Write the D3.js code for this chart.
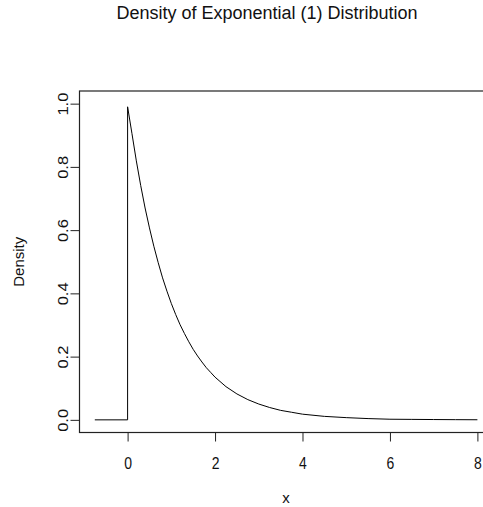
<!DOCTYPE html>
<html>
<head>
<meta charset="utf-8">
<script src="https://cdn.jsdelivr.net/npm/d3@7"></script>
<style>
  body { margin: 0; background: #fff; }
  text { font-family: "Liberation Sans", Arial, sans-serif; fill: #111; }
</style>
</head>
<body>
<div id="d3-container"></div>
<script>
/**
 * CONSTANTS AND GLOBALS
 * */
const width = 483,
  height = 507,
  margin = { top: 91, bottom: 74.5, left: 79.5, right: -9.7 };

// values: density of exp(1), flat at 0 left of the origin
const densityX = [-0.75, 0, 0, 0.1, 0.2, 0.3, 0.4, 0.5, 0.6, 0.7, 0.8, 0.9, 1.0,
  1.1, 1.2, 1.3, 1.4, 1.5, 1.6, 1.7, 1.8, 1.9, 2.0, 2.25, 2.5, 2.75, 3.0,
  3.25, 3.5, 3.75, 4.0, 4.5, 5.0, 5.5, 6.0, 6.5, 7.0, 7.5, 8.0];
const densityY = [0, 0, 0.99, 0.905, 0.819, 0.741, 0.670, 0.607, 0.549, 0.497, 0.449, 0.407, 0.368,
  0.333, 0.301, 0.273, 0.247, 0.223, 0.202, 0.183, 0.165, 0.150, 0.135, 0.105, 0.082, 0.064, 0.050,
  0.039, 0.030, 0.024, 0.018, 0.011, 0.007, 0.004, 0.002, 0.0015, 0.001, 0.0006, 0.0003];

const xTicks = [0, 2, 4, 6, 8];
const yTicks = [0, 0.2, 0.4, 0.6, 0.8, 1.0];
const yTickLabels = ["0.0", "0.2", "0.4", "0.6", "0.8", "1.0"];

const titleText = "Density of Exponential (1) Distribution";
const xLabel = "x";
const yLabel = "Density";

let svg;

/**
 * INIT
 * */
function init() {
  svg = d3.select("#d3-container")
    .append("svg")
    .attr("width", width)
    .attr("height", height);

  // R pads the data range by 4% on each side
  const xScale = d3.scaleLinear()
    .domain([-1.1, 8.35])
    .range([margin.left, width - margin.right]);

  const yScale = d3.scaleLinear()
    .domain([-0.04, 1.04])
    .range([height - margin.bottom, margin.top]);

  // plot box
  svg.append("rect")
    .attr("x", margin.left)
    .attr("y", margin.top)
    .attr("width", width - margin.right - margin.left)
    .attr("height", height - margin.bottom - margin.top)
    .attr("fill", "none")
    .attr("stroke", "#222")
    .attr("stroke-width", 1.2);

  // x axis (glyphs in the picture are a bit stretched vertically)
  const xAxis = svg.append("g")
    .attr("transform", `translate(0, ${height - margin.bottom})`)
    .call(d3.axisBottom(xScale).tickValues(xTicks).tickSize(9).tickSizeOuter(0).tickFormat(d3.format("d")));
  xAxis.select(".domain").remove();
  xAxis.selectAll("line").attr("stroke", "#222");
  xAxis.selectAll("text")
    .attr("y", 0)
    .attr("dy", 0)
    .attr("transform", "translate(0, 36) scale(1, 1.15)")
    .attr("fill", "#111")
    .style("font-size", "14px");

  // y axis, labels turned like R's las=0
  const yAxis = svg.append("g")
    .attr("transform", `translate(${margin.left}, 0)`)
    .call(d3.axisLeft(yScale).tickValues(yTicks).tickSize(9).tickSizeOuter(0)
      .tickFormat((d, i) => yTickLabels[i]));
  yAxis.select(".domain").remove();
  yAxis.selectAll("line").attr("stroke", "#222");
  yAxis.selectAll("text")
    .attr("transform", "rotate(-90) scale(1.1, 1)")
    .attr("x", 0)
    .attr("y", -12)
    .attr("dy", 0)
    .attr("text-anchor", "middle")
    .attr("fill", "#111")
    .style("font-size", "15px");

  // density line
  const line = d3.line()
    .x((d, i) => xScale(densityX[i]))
    .y(d => yScale(d));

  svg.append("path")
    .datum(densityY)
    .attr("fill", "none")
    .attr("stroke", "#000")
    .attr("stroke-width", 1)
    .attr("stroke-linejoin", "round")
    .attr("d", line);

  // titles
  svg.append("text")
    .attr("x", 267)
    .attr("y", 19)
    .attr("text-anchor", "middle")
    .style("font-size", "18px")
    .text(titleText);

  svg.append("text")
    .attr("x", (margin.left + width - margin.right) / 2)
    .attr("y", 503)
    .attr("text-anchor", "middle")
    .style("font-size", "15px")
    .text(xLabel);

  svg.append("text")
    .attr("transform", `translate(23.5, ${(margin.top + height - margin.bottom) / 2}) rotate(-90)`)
    .attr("text-anchor", "middle")
    .style("font-size", "15px")
    .text(yLabel);
}

init();
</script>
</body>
</html>
